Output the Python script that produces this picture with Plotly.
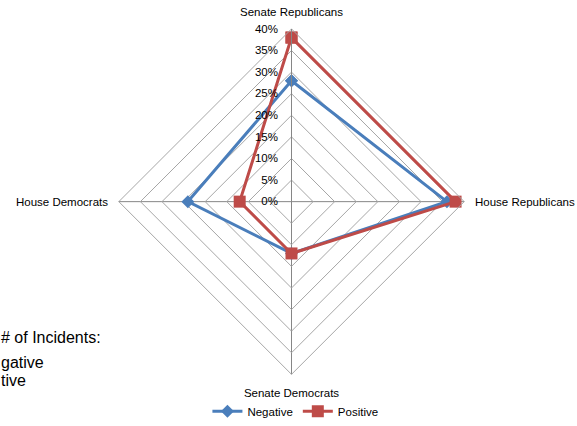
import plotly.graph_objects as go

categories = ["Senate Republicans", "House Republicans", "Senate Democrats", "House Democrats"]
negative = [0.28, 0.36, 0.12, 0.24]
positive = [0.38, 0.38, 0.12, 0.12]
radial_ticks = [0, 0.05, 0.10, 0.15, 0.20, 0.25, 0.30, 0.35, 0.40]

font_family = "Liberation Sans"

fig = go.Figure()
fig.add_trace(go.Scatterpolar(
    r=negative + [negative[0]], theta=categories + [categories[0]],
    mode="lines+markers", name="Negative",
    line=dict(color="#4a7ebb", width=3),
    marker=dict(symbol="diamond", size=10, color="#4a7ebb"),
))
fig.add_trace(go.Scatterpolar(
    r=positive + [positive[0]], theta=categories + [categories[0]],
    mode="lines+markers", name="Positive",
    line=dict(color="#be4b48", width=3),
    marker=dict(symbol="square", size=12, color="#be4b48"),
))

W, H = 577, 426
cx, cy, R = 291.5, 205.5, 176
fig.update_layout(
    width=W, height=H,
    margin=dict(l=0, r=0, t=0, b=0),
    paper_bgcolor="white",
    font=dict(family=font_family, size=11, color="black"),
    polar=dict(
        domain=dict(x=[(cx - R) / W, (cx + R) / W], y=[(H - cy - R) / H, (H - cy + R) / H]),
        bgcolor="white",
        gridshape="linear",
        angularaxis=dict(
            rotation=90, direction="clockwise",
            showline=True, linecolor="#a6a6a6", linewidth=1,
            gridcolor="#868686", gridwidth=1,
            ticks="outside", ticklen=8, tickcolor="rgba(0,0,0,0)",
            tickfont=dict(size=11.5),
        ),
        radialaxis=dict(
            range=[0, 0.4], tickvals=radial_ticks, tickformat=".0%",
            angle=90, tickangle=90, side="counterclockwise",
            showline=True, linecolor="#868686", linewidth=1,
            gridcolor="#a6a6a6", gridwidth=1,
            ticks="outside", ticklen=9, tickcolor="rgba(0,0,0,0)",
            tickfont=dict(size=11.5),
        ),
    ),
    legend=dict(orientation="h", x=0.512, xanchor="center", y=1 - 419 / H, yanchor="middle",
                bgcolor="rgba(0,0,0,0)", font=dict(size=11.5), tracegroupgap=0),
    showlegend=True,
)

for txt, ypx in [("# of Incidents:", 344), ("gative", 369), ("tive", 388)]:
    fig.add_annotation(text=txt, xref="paper", yref="paper", x=-0.002, y=1 - ypx / H,
                       xanchor="left", yanchor="middle", showarrow=False,
                       font=dict(size=16, family=font_family))

fig.write_html("out.html", config={"displayModeBar": False},
               post_script="document.body.style.margin='0px';")
